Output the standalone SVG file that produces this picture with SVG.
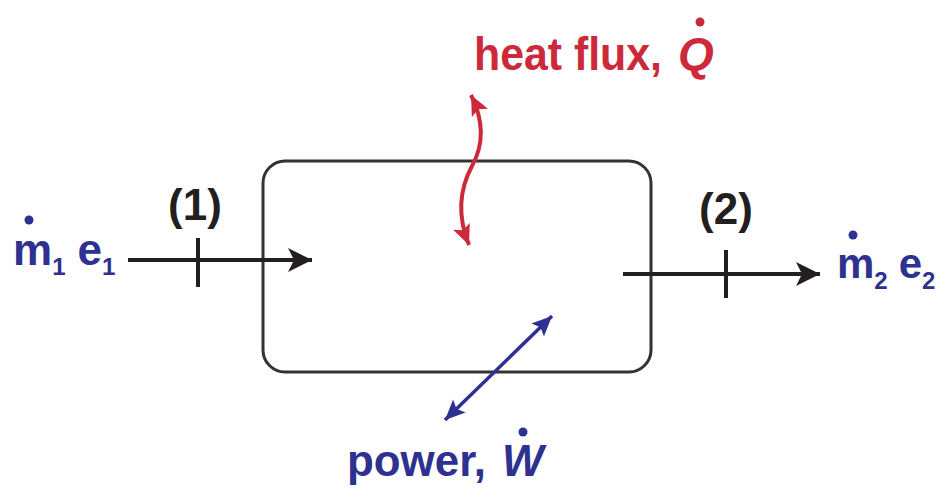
<svg xmlns="http://www.w3.org/2000/svg" width="952" height="498" viewBox="0 0 952 498">
<style>
.t{font-family:"Liberation Sans",Arial,sans-serif;font-weight:bold;}
.red{fill:#cc2a3a;}
.blue{fill:#2e3190;}
.blk{fill:#231f20;}
.sub{font-size:24px;}
</style>
<defs>
<marker id="ak" markerWidth="30" markerHeight="30" refX="24" refY="12" markerUnits="userSpaceOnUse" orient="auto" overflow="visible">
<path d="M0,0 L24,12 L0,24 L6,12 z" fill="#231f20"/>
</marker>
<marker id="ar" markerWidth="24" markerHeight="24" refX="20" refY="9" markerUnits="userSpaceOnUse" orient="auto-start-reverse" overflow="visible">
<path d="M0,0 L20,9 L0,18 L4,9 z" fill="#cc2a3a"/>
</marker>
<marker id="ab" markerWidth="24" markerHeight="24" refX="20" refY="9" markerUnits="userSpaceOnUse" orient="auto-start-reverse" overflow="visible">
<path d="M0,0 L20,9 L0,18 L4,9 z" fill="#2e3190"/>
</marker>
</defs>
<g id="box">
<rect x="263" y="161" width="388" height="211" rx="22" ry="22" fill="none" stroke="#333" stroke-width="3"/>
</g>
<g id="inlet">
<text class="t blue" x="13" y="265" font-size="44">m<tspan class="sub" dy="10">1</tspan><tspan dy="-10" dx="12">e</tspan><tspan class="sub" dy="10">1</tspan></text>
<circle cx="29" cy="220" r="4.5" fill="#2e3190"/>
<text class="t blk" x="195" y="220" font-size="44" text-anchor="middle">(1)</text>
</g>
<g id="outlet">
<text class="t blue" x="837" y="278" font-size="42">m<tspan class="sub" dy="11">2</tspan><tspan dy="-11" dx="11">e</tspan><tspan class="sub" dy="11">2</tspan></text>
<circle cx="853" cy="235" r="4.5" fill="#2e3190"/>
<text class="t blk" x="726" y="224" font-size="44" text-anchor="middle">(2)</text>
</g>
<g id="heat">
<text class="t red" x="474" y="70" font-size="46" textLength="188" lengthAdjust="spacingAndGlyphs">heat flux,</text>
<text class="t red" x="678" y="70" font-size="46" font-style="italic">Q</text>
<circle cx="700" cy="22" r="4.5" fill="#cc2a3a"/>
</g>
<g id="power">
<text class="t blue" x="347" y="476" font-size="44" textLength="139" lengthAdjust="spacingAndGlyphs">power,</text>
<text class="t blue" x="502" y="476" font-size="44" font-style="italic">W</text>
<circle cx="523" cy="432" r="4.5" fill="#2e3190"/>
</g>
<g id="connectors" fill="none">
<path d="M128,260 L312,260" stroke="#231f20" stroke-width="4" marker-end="url(#ak)"/>
<path d="M198,238 L198,287" stroke="#231f20" stroke-width="4"/>
<path d="M623,274 L820,274" stroke="#231f20" stroke-width="4" marker-end="url(#ak)"/>
<path d="M726,250 L726,298" stroke="#231f20" stroke-width="4"/>
<path d="M471,95 C486,125 482,148 472,166 C458,192 458,218 469,245" stroke="#cc2a3a" stroke-width="4" marker-start="url(#ar)" marker-end="url(#ar)"/>
<path d="M445,420 L552,316" stroke="#2e3190" stroke-width="3.5" marker-start="url(#ab)" marker-end="url(#ab)"/>
</g>
</svg>
